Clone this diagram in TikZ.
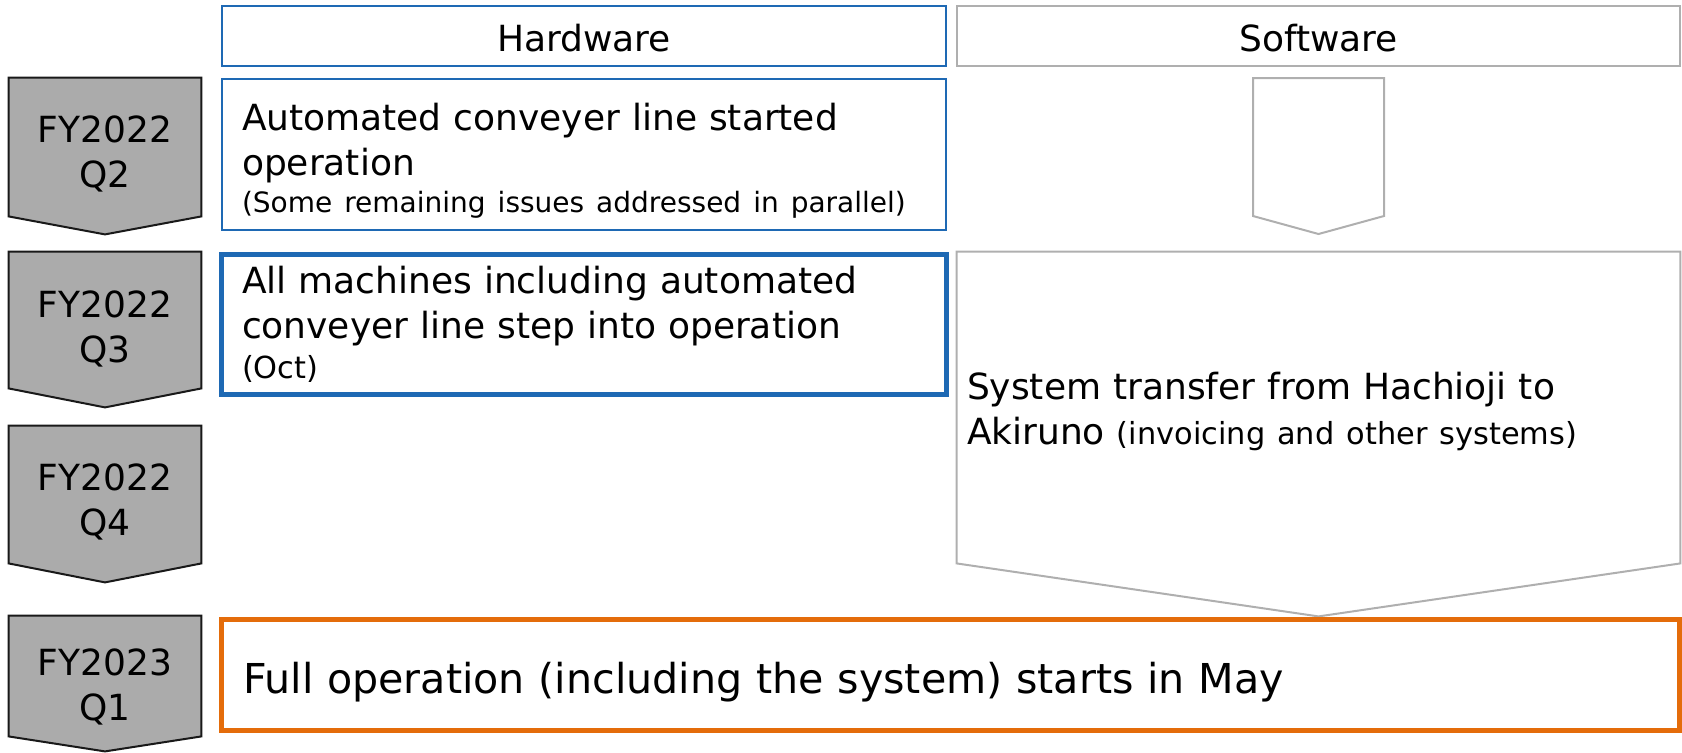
\documentclass[tikz,border=0pt]{standalone}
\usepackage{fontspec}
\setmainfont{DejaVu Sans}
\usepackage{xcolor}
\definecolor{hwblue}{RGB}{30,105,180}
\definecolor{chevgray}{RGB}{171,171,171}
\definecolor{swgray}{RGB}{175,175,175}
\definecolor{fullorange}{RGB}{228,108,10}
\usetikzlibrary{calc}
\usetikzlibrary{backgrounds}
\newcommand{\smalltxt}{\fontsize{15.2}{18}\selectfont}

\begin{document}
\begin{tikzpicture}[x=0.5pt, y=-0.5pt,
    every node/.style={inner sep=0pt, font=\fontsize{18}{22.5}\selectfont},
    quarter/.style={minimum width=96pt},
    qlabel/.style={align=center},
    chevron/.style={fill=chevgray, draw=black!90, line width=1pt},
    hwbox/.style={draw=hwblue, line width=1pt},
    swbox/.style={draw=swgray, line width=1pt},
    header/.style={minimum height=30pt, text height=17pt, text depth=1.3pt},
    textbox/.style={align=left, inner xsep=10pt}]

\useasboundingbox (0,0) rectangle (1682,752);

\node[hwbox, header, minimum width=362pt] (hw) at (584,36) {Hardware};
\node[swbox, header, minimum width=361.5pt] (sw) at (1318.5,36) {Software};

\node[quarter, minimum height=69pt] (q2) at (105,147) {};
\node[quarter, minimum height=68pt] (q3) at (105,320) {};
\node[quarter, minimum height=68.5pt] (q4) at (105,494.5) {};
\node[quarter, minimum height=60pt] (q1) at (105,676) {};

\draw[chevron] (q2.north west) -- (q2.north east) -- (q2.south east) -- ($(q2.south)+(0,18)$) -- (q2.south west) -- cycle;
\draw[chevron] (q3.north west) -- (q3.north east) -- (q3.south east) -- ($(q3.south)+(0,19)$) -- (q3.south west) -- cycle;
\draw[chevron] (q4.north west) -- (q4.north east) -- (q4.south east) -- ($(q4.south)+(0,19)$) -- (q4.south west) -- cycle;
\draw[chevron] (q1.north west) -- (q1.north east) -- (q1.south east) -- ($(q1.south)+(0,15)$) -- (q1.south west) -- cycle;

\node[qlabel] (q2t) at ($(q2)+(0,7)$) {FY2022\\Q2};
\node[qlabel] (q3t) at ($(q3)+(0,8.5)$) {FY2022\\Q3};
\node[qlabel] (q4t) at ($(q4)+(0,7)$) {FY2022\\Q4};
\node[qlabel] (q1t) at ($(q1)+(0,11)$) {FY2023\\Q1};

\node[hwbox, minimum width=362pt, minimum height=75.5pt] (hwq2) at (584,154.5) {};
\node[textbox, text width=342pt] (hwq2t) at ($(hwq2)+(0,6)$)
  {Automated conveyer line started\\operation\\[-4pt]{\fontsize{14}{18}\selectfont (Some remaining issues addressed in parallel)}};
\node[draw=hwblue, line width=2.5pt, textbox, inner xsep=10.25pt, text width=342pt, minimum height=70pt] (hwq3) at (584,324.5)
  {All machines including automated\\conveyer line step into operation\\[-2.5pt]{\smalltxt (Oct)}};

\draw[swbox] (1253,78) -- (1384,78) -- (1384,216) -- (1318.5,234) -- (1253,216) -- cycle;

\node[minimum width=361.5pt, minimum height=155.5pt] (sysbox) at (1318.5,407.5) {};
\draw[swbox] (sysbox.north west) -- (sysbox.north east) -- (sysbox.south east) -- ($(sysbox.south)+(0,53)$) -- (sysbox.south west) -- cycle;
\node[textbox, inner xsep=5pt, text width=351.5pt] (sys) at ($(sysbox)+(0,4)$)
  {System transfer from Hachioji to\\Akiruno {\smalltxt (invoicing and other systems)}};

\node[draw=fullorange, line width=2.5pt, fill=white, textbox, inner xsep=10.75pt, text width=707.5pt, minimum height=55.5pt,
  text height=20pt, text depth=1.7pt, font=\fontsize{20.6}{25}\selectfont] (full) at (950.5,675)
  {Full operation (including the system) starts in May};

\end{tikzpicture}
\end{document}
